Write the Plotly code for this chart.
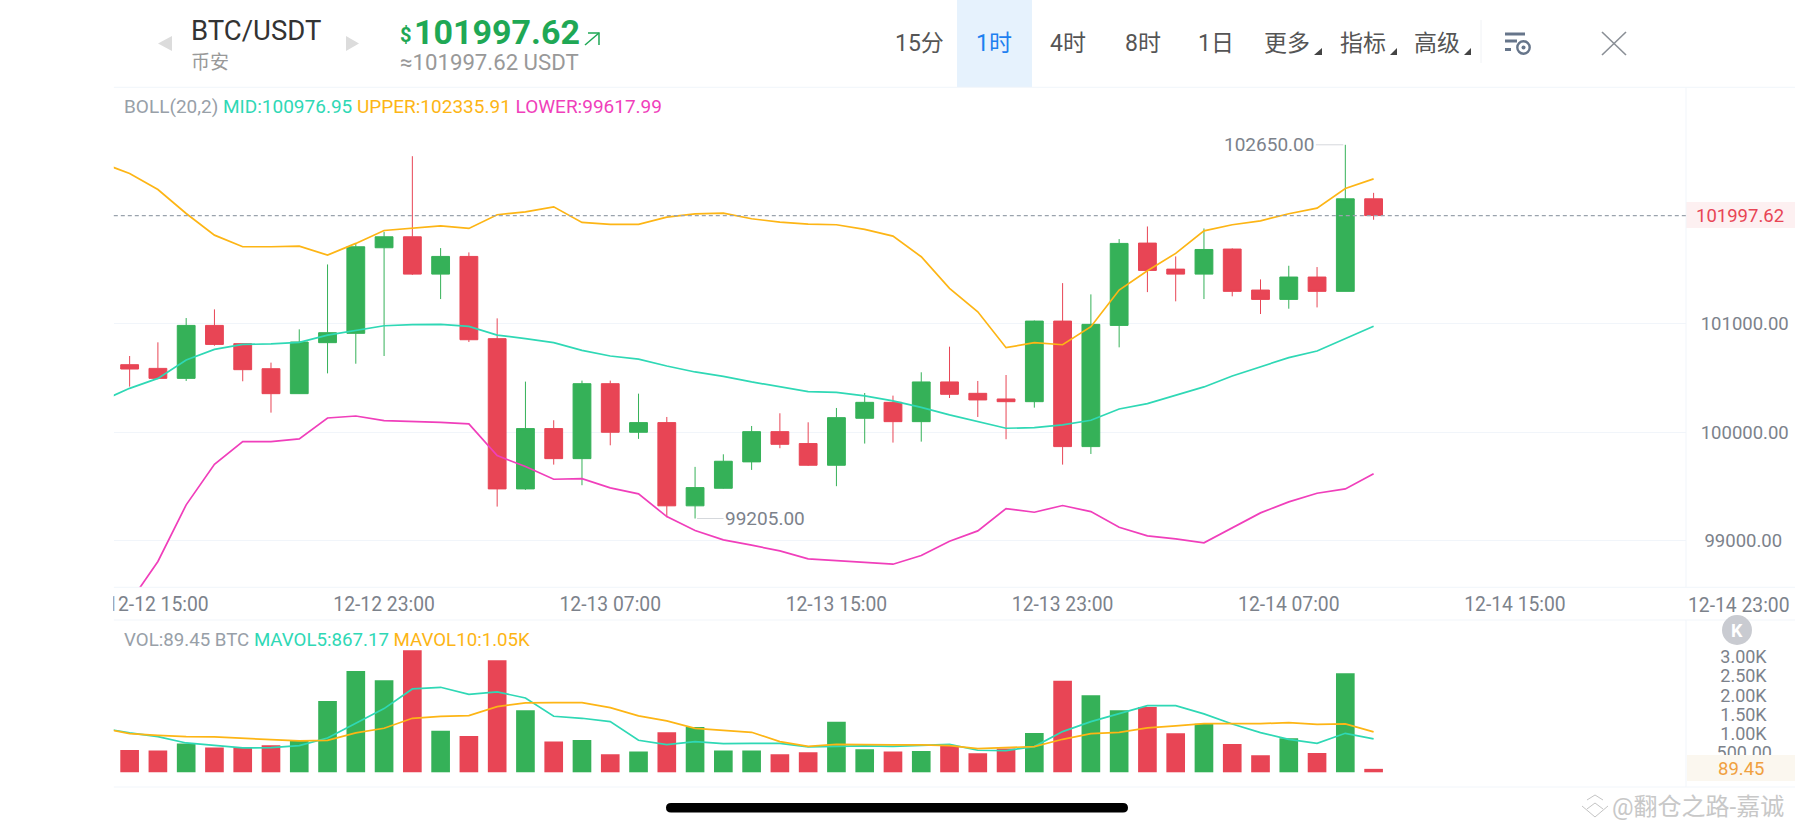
import plotly.graph_objects as go

W, H = 1795, 828

TIMES = [
    "2024-12-12 13:00", "2024-12-12 14:00", "2024-12-12 15:00", "2024-12-12 16:00", "2024-12-12 17:00", "2024-12-12 18:00",
    "2024-12-12 19:00", "2024-12-12 20:00", "2024-12-12 21:00", "2024-12-12 22:00", "2024-12-12 23:00", "2024-12-13 00:00",
    "2024-12-13 01:00", "2024-12-13 02:00", "2024-12-13 03:00", "2024-12-13 04:00", "2024-12-13 05:00", "2024-12-13 06:00",
    "2024-12-13 07:00", "2024-12-13 08:00", "2024-12-13 09:00", "2024-12-13 10:00", "2024-12-13 11:00", "2024-12-13 12:00",
    "2024-12-13 13:00", "2024-12-13 14:00", "2024-12-13 15:00", "2024-12-13 16:00", "2024-12-13 17:00", "2024-12-13 18:00",
    "2024-12-13 19:00", "2024-12-13 20:00", "2024-12-13 21:00", "2024-12-13 22:00", "2024-12-13 23:00", "2024-12-14 00:00",
    "2024-12-14 01:00", "2024-12-14 02:00", "2024-12-14 03:00", "2024-12-14 04:00", "2024-12-14 05:00", "2024-12-14 06:00",
    "2024-12-14 07:00", "2024-12-14 08:00", "2024-12-14 09:00", "2024-12-14 10:00",
]
OPEN = [100623, 100589, 100497, 100985, 100817, 100586, 100356, 100826, 100912, 101701, 101802, 101458, 101621, 100863, 99478, 100034,
        99757, 100448, 100000, 100089, 99322, 99484, 99727, 100006, 99896, 99696, 100129, 100276, 100098, 100464, 100359, 100307, 100282,
        101025, 99868, 100985, 101744, 101504, 101458, 101689, 101311, 101225, 101431, 101299, 102152]
HIGH = [100703, 100829, 101053, 101133, 100820, 100642, 100949, 101547, 101741, 101848, 102545, 101698, 101658, 101050, 100467, 100111,
        100476, 100476, 100356, 100141, 99681, 99797, 100058, 100175, 100092, 100224, 100362, 100338, 100553, 100789, 100473, 100528, 101030,
        101375, 101271, 101781, 101897, 101621, 101879, 101695, 101409, 101535, 101523, 102650, 102207]
LOW = [100421, 100488, 100473, 100798, 100470, 100181, 100353, 100543, 100632, 100703, 101450, 101228, 100832, 99315, 99469, 99702,
       99512, 99880, 99939, 99217, 99205, 99480, 99653, 99853, 99690, 99503, 99896, 99905, 99914, 100316, 100141, 99936, 100227,
       99702, 99800, 100783, 101292, 101207, 101228, 101253, 101090, 101139, 101151, 101299, 101959]
CLOSE = [100583, 100497, 100985, 100810, 100577, 100356, 100832, 100918, 101710, 101802, 101458, 101621, 100853, 99478, 100034, 99757,
         100448, 100000, 100089, 99322, 99490, 99733, 100006, 99889, 99696, 100135, 100276, 100098, 100464, 100350, 100298, 100282, 101025,
         99868, 100995, 101741, 101492, 101458, 101685, 101299, 101225, 101431, 101299, 102152, 101997.62]
BOLL_MID = [100289, 100405, 100497, 100666, 100764, 100810, 100814, 100829, 100896, 100942, 100982, 100992, 100995, 100976, 100896, 100863,
            100826, 100755, 100703, 100675, 100611, 100556, 100516, 100464, 100418, 100375, 100368, 100335, 100289, 100230, 100160, 100101, 100037,
            100043, 100068, 100111, 100215, 100264, 100338, 100418, 100519, 100602, 100688, 100749, 100863, 100976.95]
BOLL_UPPER = [102484, 102385, 102238, 102017, 101817, 101710, 101710, 101716, 101633, 101741, 101860, 101885, 101903, 101879, 102005, 102032,
              102078, 101934, 101916, 101916, 101983, 102014, 102020, 101968, 101937, 101919, 101913, 101870, 101808, 101618, 101326, 101111, 100780,
              100826, 100807, 100973, 101311, 101489, 101649, 101857, 101913, 101949, 102014, 102066, 102247, 102335.91]
BOLL_LOWER = [98200, 98431, 98809, 99331, 99705, 99914, 99914, 99939, 100132, 100150, 100107, 100101, 100092, 100077, 99785, 99684,
              99567, 99573, 99487, 99432, 99223, 99094, 99008, 98959, 98907, 98833, 98818, 98803, 98784, 98864, 98996, 99091, 99297,
              99263, 99325, 99269, 99125, 99045, 99018, 98981, 99119, 99257, 99358, 99438, 99478, 99617.99]
VOLUME = [580, 563, 745, 641, 650, 701, 814, 1853, 2633, 2390, 3170, 1082, 944, 2910, 1611, 797, 840, 468, 537, 1039, 1178, 563, 563, 468, 520,
          1316, 598, 537, 554, 684, 494, 615, 1022, 2381, 2000, 1611, 1697, 1013, 1264, 736, 442, 883, 502, 2572, 89.45]
MAVOL5 = [1152, 1022, 927, 762, 701, 632, 641, 693, 892, 1273, 1654, 2165, 2208, 2026, 2087, 1931, 1455, 1403, 1316, 831, 719, 797, 745, 753, 753,
          658, 675, 684, 675, 710, 727, 572, 563, 667, 1057, 1316, 1533, 1732, 1732, 1516, 1256, 1031, 857, 753, 1013, 867.17]
MAVOL10 = [1143, 1005, 961, 927, 918, 883, 840, 814, 831, 1022, 1143, 1403, 1455, 1472, 1706, 1801, 1810, 1810, 1680, 1464, 1334, 1143, 1091, 1039, 797,
           675, 727, 710, 710, 710, 693, 615, 632, 667, 857, 1005, 1039, 1152, 1204, 1264, 1264, 1264, 1290, 1247, 1256, 1050]
LAST_PRICE = 101997.62
PRICE_TICKS = [99000, 100000, 101000]
PRICE_TICK_TEXT = ["\u200999000.00", "100000.00", "101000.00"]
VOL_TICKS = [500, 1000, 1500, 2000, 2500, 3000]
VOL_TICK_TEXT = ["500.00", "\u20091.00K", "\u20091.50K", "\u20092.00K", "\u20092.50K", "\u20093.00K"]
TIME_TICKS = ["2024-12-12 15:00", "2024-12-12 23:00", "2024-12-13 07:00", "2024-12-13 15:00", "2024-12-13 23:00", "2024-12-14 07:00", "2024-12-14 15:00"]
TIME_TICK_TEXT = ["12-12 15:00", "12-12 23:00", "12-13 07:00", "12-13 15:00", "12-13 23:00", "12-14 07:00", "12-14 15:00"]

GREEN, RED = "#35b158", "#e84555"
TEAL, ORANGE, PINK = "#2fd8b5", "#fdb515", "#f03fbb"
GRID = "#f1f5fa"
FONT = "Roboto, 'Noto Sans CJK SC', sans-serif"
L, R = 113.8, 1686.0
XRANGE = ["2024-12-12 13:26:24", "2024-12-14 21:03:00"]


def px(x):
    return x / W


def py(y):
    return 1 - y / H


def text(x, y, s, size, color, anchor="center", bold=False, font=FONT):
    return dict(x=px(x), y=py(y), xref="paper", yref="paper", text=f"<b>{s}</b>" if bold else s, showarrow=False,
                xanchor=anchor, yanchor="middle", font=dict(size=size, color=color, family=font))


def rect(x0, y0, x1, y1, fill, layer="above"):
    return dict(type="rect", xref="paper", yref="paper", x0=px(x0), x1=px(x1), y0=py(y0), y1=py(y1),
                fillcolor=fill, line=dict(width=0), layer=layer)


def seg(x0, y0, x1, y1, color, width=1):
    return dict(type="line", xref="paper", yref="paper", x0=px(x0), x1=px(x1), y0=py(y0), y1=py(y1),
                line=dict(color=color, width=width), layer="above")


def poly(points, fill, color=None, width=0, close=True):
    d = "M " + " L ".join(f"{px(a):.5f},{py(b):.5f}" for a, b in points) + (" Z" if close else "")
    return dict(type="path", xref="paper", yref="paper", path=d, fillcolor=fill,
                line=dict(color=color or fill, width=width), layer="above")


def circle(cx, cy, r, fill, color=None, width=0):
    return dict(type="circle", xref="paper", yref="paper", x0=px(cx - r), x1=px(cx + r), y0=py(cy - r), y1=py(cy + r),
                fillcolor=fill, line=dict(color=color or fill, width=width), layer="above")


fig = go.Figure()
candle_x = TIMES[1:]
fig.add_trace(go.Candlestick(x=candle_x, open=OPEN, high=HIGH, low=LOW, close=CLOSE, xaxis="x", yaxis="y",
                             increasing=dict(line=dict(color=GREEN, width=1), fillcolor=GREEN),
                             decreasing=dict(line=dict(color=RED, width=1), fillcolor=RED), whiskerwidth=0))
for name, vals, col in (("MID", BOLL_MID, TEAL), ("UPPER", BOLL_UPPER, ORANGE), ("LOWER", BOLL_LOWER, PINK)):
    fig.add_trace(go.Scatter(x=TIMES, y=vals, mode="lines", name=name, line=dict(color=col, width=1.7), xaxis="x", yaxis="y"))
bar_colors = [GREEN if c >= o else RED for o, c in zip(OPEN, CLOSE)]
fig.add_trace(go.Bar(x=candle_x, y=VOLUME, marker=dict(color=bar_colors, line=dict(width=0)), xaxis="x2", yaxis="y2"))
for name, vals, col in (("MAVOL5", MAVOL5, TEAL), ("MAVOL10", MAVOL10, ORANGE)):
    fig.add_trace(go.Scatter(x=TIMES, y=vals, mode="lines", name=name, line=dict(color=col, width=1.7), xaxis="x2", yaxis="y2"))

shapes = [
    rect(957, 0, 1032, 87, "#e6f2fd", "below"),
    rect(R, 202, W, 228, "#fdf0f1", "below"),
    seg(L, 87.3, W, 87.3, GRID), seg(L, 587.3, W, 587.3, GRID), seg(L, 620, W, 620, GRID), seg(L, 787, W, 787, GRID),
    seg(R, 87.3, R, 587.3, GRID), seg(R, 620, R, 787, GRID),
    rect(0, 590, L - 0.5, 619, "#ffffff"),
    dict(type="line", xref="paper", yref="y", x0=px(L), x1=px(R), y0=LAST_PRICE, y1=LAST_PRICE,
         line=dict(color="#9aa3ad", width=1.2, dash="4px,3px"), layer="above"),
    rect(R + 1, 755, W, 781, "#fbf7ef"),
    poly([(172, 36), (172, 51), (158, 43.5)], "#dcdcdc"),
    poly([(346, 36), (346, 51), (359, 43.5)], "#dcdcdc"),
    poly([(585, 45), (599, 33)], "rgba(0,0,0,0)", "#1fa855", 1.5, False),
    poly([(588, 33), (599, 33), (599, 45)], "rgba(0,0,0,0)", "#1fa855", 1.5, False),
    poly([(1322, 48), (1322, 55), (1314, 55)], "#444444"),
    poly([(1397, 48), (1397, 55), (1390, 55)], "#444444"),
    poly([(1471, 48), (1471, 55), (1464, 55)], "#444444"),
    seg(1481, 20, 1481, 63, "#f0f2f5"),
    rect(1505, 32.5, 1525, 35.5, "#66758a"), rect(1505, 39.5, 1517, 42.5, "#66758a"), rect(1505, 48, 1511, 51, "#66758a"),
    circle(1523.5, 47.5, 6.2, "#ffffff", "#66758a", 2.4), circle(1523.5, 47.5, 2, "#66758a"),
    seg(1602, 32, 1626, 55, "#8a8f96", 1.6), seg(1626, 32, 1602, 55, "#8a8f96", 1.6),
    circle(1737, 630, 15, "#c9cbd1"),
    dict(type="path", xref="paper", yref="paper", fillcolor="#000000", line=dict(width=0), layer="above",
         path=f"M {px(671):.5f},{py(803):.5f} L {px(1123):.5f},{py(803):.5f} Q {px(1128):.5f},{py(803):.5f} {px(1128):.5f},{py(807.7):.5f} "
              f"Q {px(1128):.5f},{py(812.4):.5f} {px(1123):.5f},{py(812.4):.5f} L {px(671):.5f},{py(812.4):.5f} "
              f"Q {px(666):.5f},{py(812.4):.5f} {px(666):.5f},{py(807.7):.5f} Q {px(666):.5f},{py(803):.5f} {px(671):.5f},{py(803):.5f} Z"),
    poly([(1582, 806), (1595, 817), (1608, 806)], "rgba(0,0,0,0)", "#c4c4c4", 1, False),
    poly([(1587, 800), (1595, 795), (1603, 800)], "rgba(0,0,0,0)", "#c4c4c4", 1, False),
    poly([(1587, 809), (1595, 803), (1603, 809)], "rgba(0,0,0,0)", "#c4c4c4", 1, False),
]

annotations = [
    text(189, 31, "BTC/USDT", 27.5, "#333333", "left"),
    text(189, 62, "币安", 19, "#999999", "left"),
    text(398, 35, "$", 20, "#1fa855", "left", True),
    text(411.5, 32, "101997.62", 34, "#1fa855", "left", True),
    text(398, 62, "≈101997.62 USDT", 22.2, "#999999", "left"),
    text(919, 43, "15分", 23, "#555555"),
    text(994, 43, "1时", 23, "#1e80f0"),
    text(1068, 43, "4时", 23, "#555555"),
    text(1143, 43, "8时", 23, "#555555"),
    text(1216, 43, "1日", 23, "#555555"),
    text(1287, 43, "更多", 23, "#555555"),
    text(1363, 43, "指标", 23, "#555555"),
    text(1437, 43, "高级", 23, "#555555"),
    text(121.5, 106, f"BOLL(20,2) <span style='color:{TEAL}'>MID:100976.95</span> <span style='color:{ORANGE}'>UPPER:102335.91</span> "
                     f"<span style='color:{PINK}'>LOWER:99617.99</span>", 19, "#98a0a8", "left"),
    text(121.5, 640, f"VOL:89.45 BTC <span style='color:{TEAL}'>MAVOL5:867.17</span> <span style='color:{ORANGE}'>MAVOL10:1.05K</span>",
         18.7, "#98a0a8", "left"),
    text(1740, 216, "101997.62", 18.5, RED),
    text(1741, 769, "89.45", 18.5, "#f0a040"),
    text(1737, 630, "K", 18, "#ffffff", bold=True),
    text(1738, 605, "12-14 23:00", 19.3, "#7c828b"),
    text(1610, 807, "@翻仓之路-嘉诚", 24, "#c8c8c8", "left"),
    dict(x=TIMES[44], y=HIGH[43], xref="x", yref="y", text="102650.00", showarrow=True, arrowhead=0, arrowwidth=1, arrowcolor="#d5d8dc",
         ax=-76, ay=0, standoff=2, font=dict(size=19, color="#7c828b", family=FONT)),
    dict(x=TIMES[21], y=LOW[20], xref="x", yref="y", text="99205.00", showarrow=True, arrowhead=0, arrowwidth=1, arrowcolor="#d5d8dc",
         ax=70, ay=0, standoff=2, font=dict(size=19, color="#7c828b", family=FONT)),
]

fig.update_layout(
    width=W, height=H, margin=dict(l=0, r=0, t=0, b=0, pad=0, autoexpand=False), paper_bgcolor="#ffffff", plot_bgcolor="#ffffff",
    showlegend=False, bargap=0.34, boxgap=0.37, boxgroupgap=0, hovermode=False, font=dict(family=FONT),
    xaxis=dict(type="date", domain=[px(L), px(R)], range=XRANGE, anchor="y", rangeslider=dict(visible=False), showgrid=False,
               zeroline=False, showline=False, ticks="outside", ticklen=0, tickmode="array", tickvals=TIME_TICKS, ticktext=TIME_TICK_TEXT,
               tickfont=dict(size=19.3, color="#7c828b"), ticklabelstandoff=0),
    xaxis2=dict(type="date", domain=[px(L), px(R)], range=XRANGE, anchor="y2", matches="x", showticklabels=False, showgrid=False,
                zeroline=False, showline=False, ticks=""),
    yaxis=dict(domain=[py(587.3), py(87.3)], range=[98571, 103180], side="right", anchor="x", tickmode="array", tickvals=PRICE_TICKS,
               ticktext=PRICE_TICK_TEXT, showgrid=True, gridcolor=GRID, gridwidth=1, zeroline=False, showline=False, ticks="outside",
               ticklen=0, tickfont=dict(size=18.5, color="#7c828b"), ticklabelstandoff=10),
    yaxis2=dict(domain=[py(787), py(620)], range=[-382, 3956], side="right", anchor="x2", tickmode="array", tickvals=VOL_TICKS,
                ticktext=VOL_TICK_TEXT, showgrid=False, zeroline=False, showline=False, ticks="outside", ticklen=0,
                tickfont=dict(size=18, color="#7c828b"), ticklabelstandoff=26),
    shapes=shapes, annotations=annotations,
)

fig.write_html("out.html", config={"displayModeBar": False},
               post_script="document.body.style.margin='0';document.body.style.overflow='hidden';")
